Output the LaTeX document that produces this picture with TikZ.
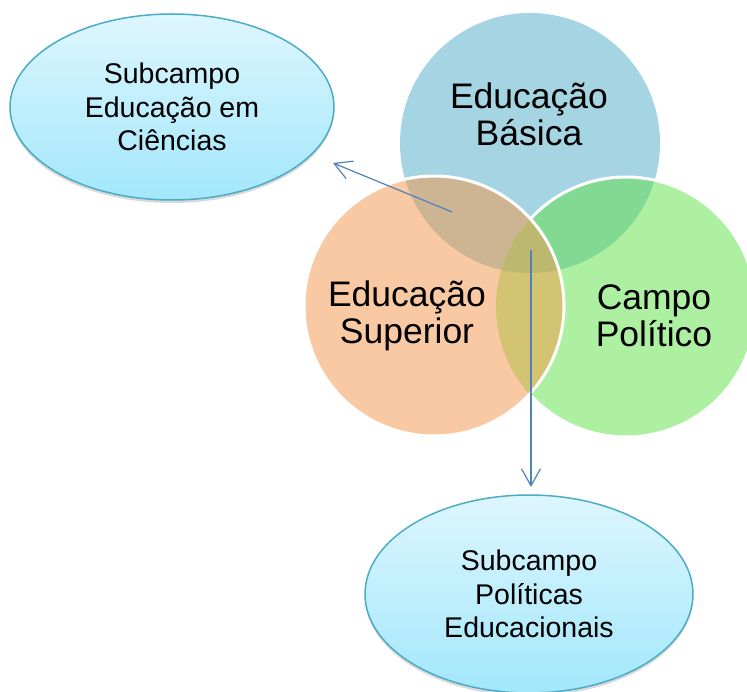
\documentclass[tikz,border=0pt]{standalone}
\usepackage{fontspec}
\setmainfont{Liberation Sans}
\usetikzlibrary{shapes.geometric,arrows.meta,shadows}
\definecolor{basica}{HTML}{A5D5E2}
\definecolor{superior}{HTML}{F8C9A2}
\definecolor{politico}{HTML}{AEF0A1}
\definecolor{basSup}{HTML}{CDB594}
\definecolor{basPol}{HTML}{82D994}
\definecolor{supPol}{HTML}{D3C474}
\definecolor{allThree}{HTML}{BDB870}
\definecolor{subtop}{HTML}{DDF6FE}
\definecolor{subbot}{HTML}{A3E7FB}
\definecolor{subborder}{HTML}{4BACC6}
\definecolor{arrowblue}{HTML}{4F81BD}
\begin{document}
\begin{tikzpicture}[x=1pt, y=-1pt,
 big/.style={align=center, font=\fontsize{35.5}{37}\selectfont},
 sub/.style={ellipse, draw=subborder, line width=1.5pt, top color=subtop, bottom color=subbot,
  minimum width=324pt, minimum height=186pt, inner sep=0pt, align=center,
  font=\fontsize{28.5}{33.5}\selectfont,
  drop shadow={opacity=0.3, shadow xshift=0pt, shadow yshift=-3pt}},
 arr/.style={-{Straight Barb[length=17pt,width=19pt]}, draw=arrowblue, line width=1.2pt},
 rim/.style={draw=white, line width=3pt}]
 \useasboundingbox (0,0) rectangle (747,692);
 \coordinate (cBas) at (530,143);
 \coordinate (cSup) at (434,306);
 \coordinate (cPol) at (626,307);
 % circles
 \fill[basica] (cBas) circle[radius=130pt];
 \fill[politico] (cPol) circle[radius=130pt];
 \begin{scope}
  \clip (cBas) circle[radius=130pt];
  \fill[basPol] (cPol) circle[radius=130pt];
 \end{scope}
 \draw[rim] (cPol) circle[radius=130pt];
 \fill[superior] (cSup) circle[radius=130pt];
 \begin{scope}
  \clip (cBas) circle[radius=130pt];
  \fill[basSup] (cSup) circle[radius=130pt];
 \end{scope}
 \begin{scope}
  \clip (cPol) circle[radius=130pt];
  \fill[supPol] (cSup) circle[radius=130pt];
  \clip (cBas) circle[radius=130pt];
  \fill[allThree] (cSup) circle[radius=130pt];
 \end{scope}
 \draw[rim] (cSup) circle[radius=130pt];
 \node[big] (nBasica) at (529,114) {Educação\\Básica};
 \node[big] (nSuperior) at (407,316) {Educação\\Superior};
 \node[big] (nPolitico) at (654,316) {Campo\\Político};
 % subfields
 \node[sub] (subCien) at (172,107) {Subcampo\\Educação em\\Ciências};
 \node[sub, minimum width=328pt, minimum height=198pt] (subPol) at (529,594) {Subcampo\\Políticas\\Educacionais};
 \coordinate (fromCien) at (452,212);
 \coordinate (toCien) at (333,163);
 \coordinate (fromPol) at (531,250);
 \coordinate (toPol) at (531,487);
 \draw[arr] (fromCien) -- (toCien);
 \draw[arr] (fromPol) -- (toPol);
\end{tikzpicture}
\end{document}
